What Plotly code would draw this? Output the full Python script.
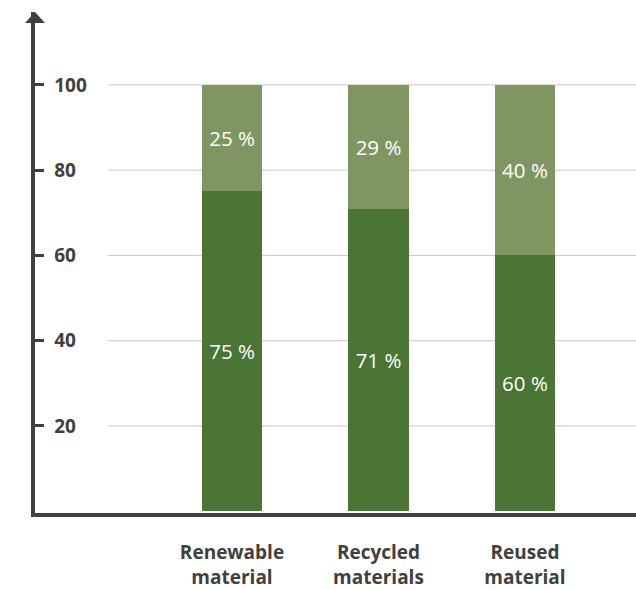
import plotly.graph_objects as go

categories = ["Renewable<br>material", "Recycled<br>materials", "Reused<br>material"]
main_share = [75, 71, 60]
other_share = [25, 29, 40]
y_ticks = [20, 40, 60, 80, 100]

DARK = "#4a7534"
LIGHT = "#7f9663"
AX = "#404040"
FONT = "Open Sans"

fig = go.Figure()
fig.add_trace(go.Bar(
    x=categories, y=main_share,
    text=[f"{v} %" for v in main_share],
    marker=dict(color=DARK, line=dict(width=0)),
    textposition="inside", insidetextanchor="middle", textangle=0,
    textfont=dict(color="white", size=20.5, family=FONT),
    hoverinfo="skip",
))
fig.add_trace(go.Bar(
    x=categories, y=other_share,
    text=[f"{v} %" for v in other_share],
    marker=dict(color=LIGHT, line=dict(width=0)),
    textposition="inside", insidetextanchor="middle", textangle=0,
    textfont=dict(color="white", size=20.5, family=FONT),
    hoverinfo="skip",
))

shapes = []
for t in y_ticks:
    shapes.append(dict(type="line", xref="paper", yref="y", x0=0.1215, x1=1, y0=t, y1=t,
                       line=dict(color="#c8c8c8", width=1), layer="below"))
# arrow head on y axis
shapes.append(dict(type="path", xref="paper", yref="paper", xsizemode="pixel", ysizemode="pixel",
                   xanchor=0, yanchor=1, path="M -10,-11 L 10,-11 L 0,0 Z",
                   fillcolor=AX, line=dict(color=AX, width=0), layer="above"))

fig.update_layout(
    width=636, height=590,
    margin=dict(l=35, r=0, t=12, b=77, autoexpand=False),
    paper_bgcolor="white", plot_bgcolor="white",
    barmode="stack", bargap=0.59,
    showlegend=False,
    shapes=shapes,
    font=dict(family=FONT, color=AX),
    xaxis=dict(
        type="category", range=[-1.345, 2.758],
        automargin=False,
        showline=True, linewidth=4, linecolor=AX,
        showgrid=False, ticks="", zeroline=False,
        tickfont=dict(family=FONT, size=19, color=AX, weight="bold"),
        ticklabelstandoff=19,
    ),
    yaxis=dict(
        range=[-0.41, 117.1],
        automargin=False,
        tickvals=y_ticks,
        showline=True, linewidth=4, linecolor=AX,
        showgrid=False, zeroline=False,
        ticks="inside", ticklen=9, tickwidth=2.5, tickcolor=AX,
        ticklabelposition="inside",
        ticklabelstandoff=11,
        tickfont=dict(family=FONT, size=19, color=AX, weight="bold"),
    ),
)

fig.write_html("out.html")
